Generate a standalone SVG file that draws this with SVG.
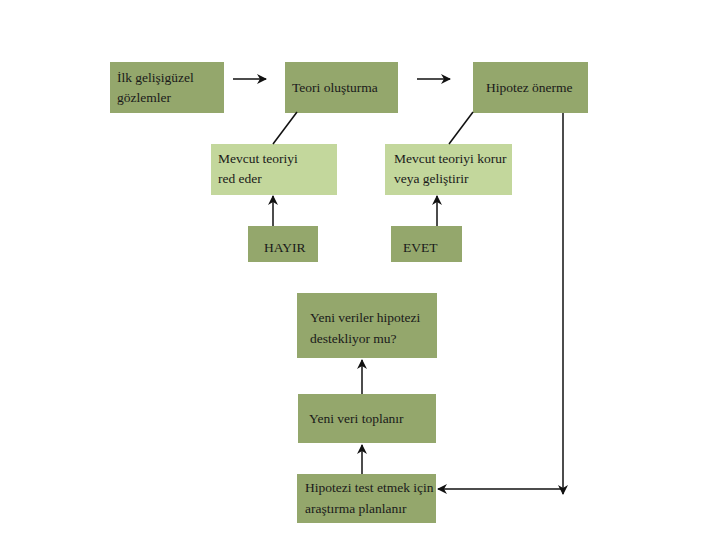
<svg xmlns="http://www.w3.org/2000/svg" width="720" height="540" viewBox="0 0 720 540">
<defs>
<marker id="ah" viewBox="0 0 10 10" refX="9" refY="5" markerWidth="10" markerHeight="10" markerUnits="userSpaceOnUse" orient="auto">
<path d="M0,0 L10,5 L0,10 L3,5 Z" fill="#111"/>
</marker>
<style>
.dark{fill:#94a76c}
.light{fill:#c3d79c}
text{font-family:"Liberation Serif","DejaVu Serif",serif;font-size:13.5px;fill:#1a1a1a}
.ln{stroke:#111;stroke-width:1.5;fill:none}
</style>
</defs>
<rect width="720" height="540" fill="#fff"/>
<g id="n1"><rect class="dark" x="110" y="62" width="114" height="51"/><text x="117" y="82">İlk gelişigüzel</text><text x="117" y="102">gözlemler</text></g>
<g id="n2"><rect class="dark" x="285" y="62" width="113" height="51"/><text x="292" y="92">Teori oluşturma</text></g>
<g id="n3"><rect class="dark" x="473" y="62" width="115" height="51"/><text x="486" y="92">Hipotez önerme</text></g>
<g id="n4"><rect class="light" x="211" y="144" width="126" height="51"/><text x="218" y="163">Mevcut teoriyi</text><text x="218" y="183">red eder</text></g>
<g id="n5"><rect class="light" x="385" y="144" width="127" height="51"/><text x="394" y="163">Mevcut teoriyi korur</text><text x="394" y="183">veya geliştirir</text></g>
<g id="n6"><rect class="dark" x="248" y="226" width="70" height="36"/><text x="264" y="252">HAYIR</text></g>
<g id="n7"><rect class="dark" x="391" y="226" width="71" height="36"/><text x="403" y="252">EVET</text></g>
<g id="n8"><rect class="dark" x="297" y="293" width="140" height="65"/><text x="310" y="322">Yeni veriler hipotezi</text><text x="310" y="343">destekliyor mu?</text></g>
<g id="n9"><rect class="dark" x="298" y="394" width="138" height="49"/><text x="309" y="423">Yeni veri toplanır</text></g>
<g id="n10"><rect class="dark" x="297" y="474" width="139" height="49"/><text x="305" y="492">Hipotezi test etmek için</text><text x="305" y="513">araştırma planlanır</text></g>
<g id="connectors">
<line class="ln" x1="233" y1="79" x2="266" y2="79" marker-end="url(#ah)"/>
<line class="ln" x1="417" y1="79" x2="450" y2="79" marker-end="url(#ah)"/>
<line class="ln" x1="297" y1="112" x2="273" y2="144"/>
<line class="ln" x1="473" y1="112" x2="449" y2="144"/>
<line class="ln" x1="273" y1="226" x2="273" y2="196" marker-end="url(#ah)"/>
<line class="ln" x1="437" y1="226" x2="437" y2="196" marker-end="url(#ah)"/>
<line class="ln" x1="362" y1="394" x2="362" y2="360" marker-end="url(#ah)"/>
<line class="ln" x1="362" y1="474" x2="362" y2="445" marker-end="url(#ah)"/>
<line class="ln" x1="563" y1="113" x2="563" y2="494" marker-end="url(#ah)"/>
<line class="ln" x1="563" y1="489" x2="438" y2="489" marker-end="url(#ah)"/>
</g>
</svg>
